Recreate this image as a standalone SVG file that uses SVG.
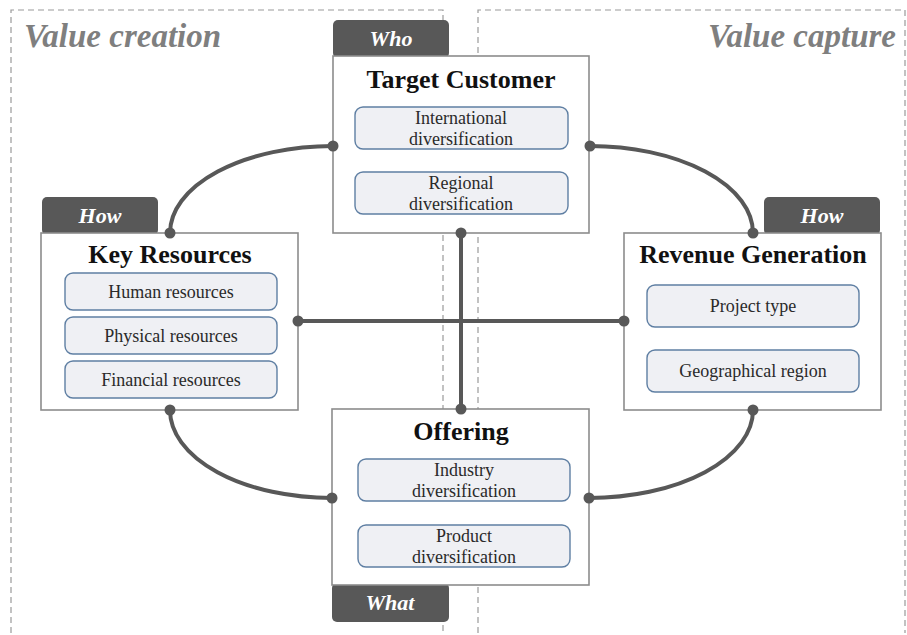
<svg xmlns="http://www.w3.org/2000/svg" width="907" height="635" viewBox="0 0 907 635" font-family="'Liberation Serif', 'Times New Roman', serif">
<style>
.region{fill:none;stroke:#9a9a9a;stroke-width:1.2;stroke-dasharray:6 4}
.box{fill:#ffffff;stroke:#8c8c8c;stroke-width:1.6}
.sub{fill:#eff0f4;stroke:#5f7fa3;stroke-width:1.4}
.tab{fill:#585858}
.tabt{font-weight:bold;font-style:italic;font-size:22px;fill:#ffffff;text-anchor:middle}
.title{font-weight:bold;font-size:26px;fill:#111;text-anchor:middle}
.st{font-size:18px;fill:#2a2a2a;text-anchor:middle}
.region-t{font-weight:bold;font-style:italic;font-size:33px;fill:#7f7f7f}
.conn{fill:none;stroke:#585858;stroke-width:4}
.dot{fill:#585858}
</style>
<rect width="907" height="635" fill="#ffffff"/>
<g id="regions">
<path class="region" d="M11,633 V10 H443 V633"/>
<path class="region" d="M478,633 V10 H905 V633"/>
<text class="region-t" x="24" y="47">Value creation</text>
<text class="region-t" x="896" y="47" text-anchor="end">Value capture</text>
</g>
<g id="target-customer">
<rect class="tab" x="333" y="20" width="116" height="38" rx="5"/>
<text class="tabt" x="391" y="46">Who</text>
<rect class="box" x="333" y="56" width="256" height="177"/>
<text class="title" x="461" y="88">Target Customer</text>
<rect class="sub" x="355" y="107" width="213" height="42" rx="8"/>
<text class="st" x="461" y="124">International</text>
<text class="st" x="461" y="145">diversification</text>
<rect class="sub" x="355" y="172" width="213" height="42" rx="8"/>
<text class="st" x="461" y="189">Regional</text>
<text class="st" x="461" y="210">diversification</text>
</g>
<g id="key-resources">
<rect class="tab" x="42" y="197" width="116" height="38" rx="5"/>
<text class="tabt" x="100" y="223">How</text>
<rect class="box" x="41" y="233" width="257" height="177"/>
<text class="title" x="170" y="263">Key Resources</text>
<rect class="sub" x="65" y="273" width="212" height="37" rx="8"/>
<text class="st" x="171" y="298">Human resources</text>
<rect class="sub" x="65" y="317" width="212" height="37" rx="8"/>
<text class="st" x="171" y="342">Physical resources</text>
<rect class="sub" x="65" y="361" width="212" height="37" rx="8"/>
<text class="st" x="171" y="386">Financial resources</text>
</g>
<g id="revenue-generation">
<rect class="tab" x="764" y="197" width="116" height="38" rx="5"/>
<text class="tabt" x="822" y="223">How</text>
<rect class="box" x="624" y="233" width="257" height="177"/>
<text class="title" x="753" y="263">Revenue Generation</text>
<rect class="sub" x="647" y="285" width="212" height="42" rx="8"/>
<text class="st" x="753" y="312">Project type</text>
<rect class="sub" x="647" y="350" width="212" height="42" rx="8"/>
<text class="st" x="753" y="377">Geographical region</text>
</g>
<g id="offering">
<rect class="tab" x="332" y="583" width="117" height="39" rx="5"/>
<text class="tabt" x="390" y="610">What</text>
<rect class="box" x="332" y="409" width="257" height="176"/>
<text class="title" x="461" y="440">Offering</text>
<rect class="sub" x="358" y="459" width="212" height="42" rx="8"/>
<text class="st" x="464" y="476">Industry</text>
<text class="st" x="464" y="497">diversification</text>
<rect class="sub" x="358" y="525" width="212" height="42" rx="8"/>
<text class="st" x="464" y="542">Product</text>
<text class="st" x="464" y="563">diversification</text>
</g>
<g id="connectors">
<path class="conn" d="M170,233 A163,87 0 0 1 333,146"/>
<path class="conn" d="M590,146 A163,87 0 0 1 753,233"/>
<path class="conn" d="M170,410 A162,88 0 0 0 332,498"/>
<path class="conn" d="M753,410 A164,88 0 0 1 589,498"/>
<path class="conn" d="M298,321 H624"/>
<path class="conn" d="M461,233 V409"/>
<circle class="dot" cx="170" cy="233" r="5.5"/>
<circle class="dot" cx="333" cy="146" r="5.5"/>
<circle class="dot" cx="590" cy="146" r="5.5"/>
<circle class="dot" cx="753" cy="233" r="5.5"/>
<circle class="dot" cx="170" cy="410" r="5.5"/>
<circle class="dot" cx="332" cy="498" r="5.5"/>
<circle class="dot" cx="753" cy="410" r="5.5"/>
<circle class="dot" cx="589" cy="498" r="5.5"/>
<circle class="dot" cx="298" cy="321" r="5.5"/>
<circle class="dot" cx="624" cy="321" r="5.5"/>
<circle class="dot" cx="461" cy="233" r="5.5"/>
<circle class="dot" cx="461" cy="409" r="5.5"/>
</g>
</svg>
